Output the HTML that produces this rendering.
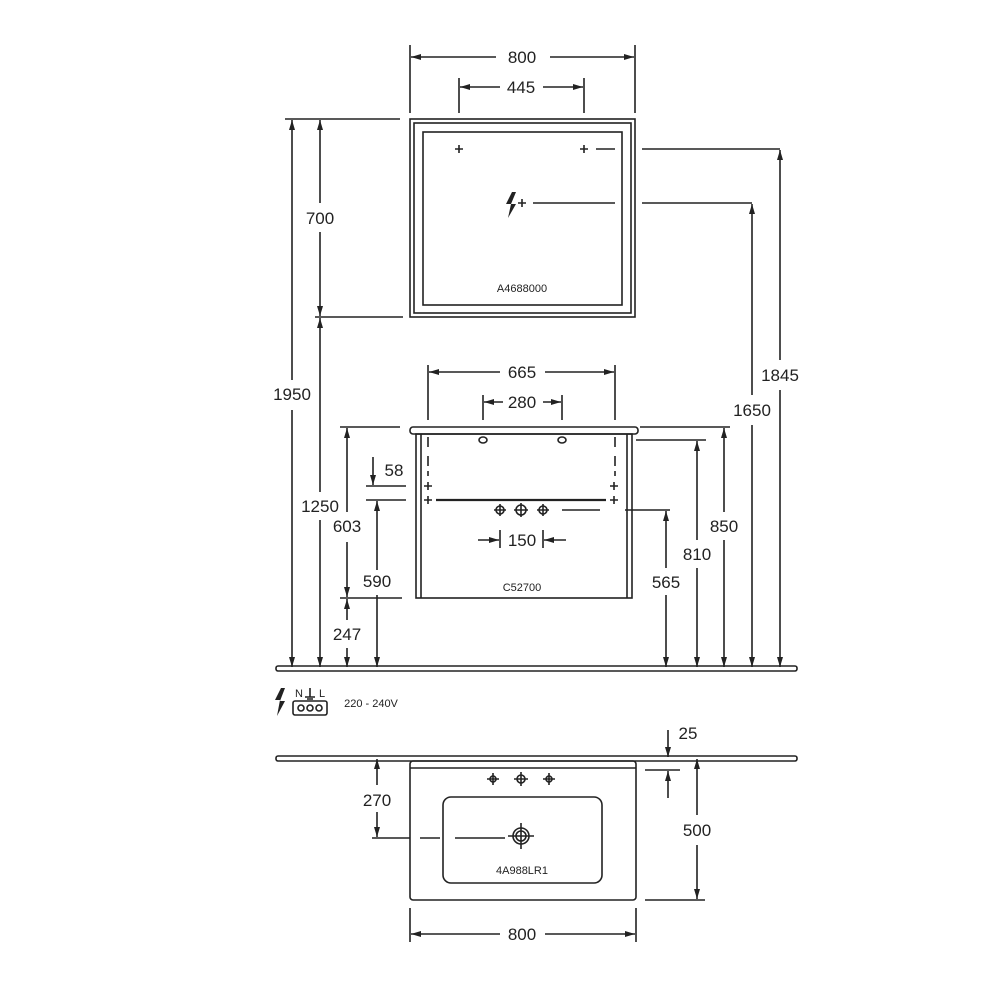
<!DOCTYPE html>
<html><head><meta charset="utf-8"><style>body{margin:0;background:#fff}svg{display:block}text{font-family:"Liberation Sans",sans-serif;fill:#222}</style></head><body>
<svg width="1000" height="1000" viewBox="0 0 1000 1000" xmlns="http://www.w3.org/2000/svg">
<defs>
<marker id="a" viewBox="0 0 10 6" refX="10" refY="3" markerWidth="11" markerHeight="6" orient="auto-start-reverse" markerUnits="userSpaceOnUse"><path d="M0,0L10,3L0,6z" fill="#222"/></marker>
</defs>
<g stroke="#222" stroke-width="1.6" fill="none">
<rect x="410" y="119" width="225" height="198"/>
<rect x="414" y="123" width="217" height="190"/>
<rect x="423" y="132" width="199" height="173"/>
<line x1="410" y1="45" x2="410" y2="113"/><line x1="635" y1="45" x2="635" y2="113"/>
<line x1="411" y1="57" x2="496" y2="57" marker-start="url(#a)"/><line x1="550" y1="57" x2="634" y2="57" marker-end="url(#a)"/>
<line x1="459" y1="78" x2="459" y2="113"/><line x1="584" y1="78" x2="584" y2="113"/>
<line x1="460" y1="87" x2="500" y2="87" marker-start="url(#a)"/><line x1="543" y1="87" x2="583" y2="87" marker-end="url(#a)"/>
<path d="M455,149h8M459,145v8M580,149h8M584,145v8M518,203h8M522,199v8"/>
<path d="M596,149h19M642,149h138M533,203h82M642,203h110"/>
<path d="M285,119h115M315,317h88"/>
<line x1="292" y1="120" x2="292" y2="380" marker-start="url(#a)"/><line x1="292" y1="410" x2="292" y2="667" marker-end="url(#a)"/>
<line x1="320" y1="120" x2="320" y2="203" marker-start="url(#a)"/><line x1="320" y1="232" x2="320" y2="316" marker-end="url(#a)"/>
<line x1="320" y1="318" x2="320" y2="492" marker-start="url(#a)"/><line x1="320" y1="520" x2="320" y2="667" marker-end="url(#a)"/>
<line x1="780" y1="150" x2="780" y2="360" marker-start="url(#a)"/><line x1="780" y1="390" x2="780" y2="667" marker-end="url(#a)"/>
<line x1="752" y1="204" x2="752" y2="395" marker-start="url(#a)"/><line x1="752" y1="425" x2="752" y2="667" marker-end="url(#a)"/>
<rect x="410" y="427" width="228" height="7" rx="3"/>
<rect x="416" y="434" width="216" height="164"/>
<path d="M421,434v164M627,434v164"/>
<ellipse cx="483" cy="440" rx="4" ry="3"/><ellipse cx="562" cy="440" rx="4" ry="3"/>
<path d="M428,365v55M615,365v55M483,395v25M562,395v25"/>
<line x1="429" y1="372" x2="500" y2="372" marker-start="url(#a)"/><line x1="545" y1="372" x2="614" y2="372" marker-end="url(#a)"/>
<line x1="484" y1="402" x2="503" y2="402" marker-start="url(#a)"/><line x1="543" y1="402" x2="561" y2="402" marker-end="url(#a)"/>
<path d="M428,437v12M428,456v20M615,437v12M615,456v20" stroke-dasharray="10 5"/>
<path d="M424,486h8M428,482v8M610,486h8M614,482v8M424,500h8M428,496v8M610,500h8M614,496v8"/>
<path d="M436,500h170" stroke-width="2.2"/>
<circle cx="500" cy="510" r="4"/><circle cx="521" cy="510" r="5"/><circle cx="543" cy="510" r="4"/>
<path d="M494,510h12M500,504v12M514,510h14M521,503v14M537,510h12M543,504v12"/>
<path d="M562,510h38M625,510h45"/>
<path d="M500,530v18M543,530v18"/>
<line x1="478" y1="540" x2="499" y2="540" marker-end="url(#a)"/><line x1="566" y1="540" x2="544" y2="540" marker-end="url(#a)"/>
<path d="M340,427h60M340,598h62M366,486h40M366,500h40M636,440h70M640,427h90"/>
<line x1="347" y1="428" x2="347" y2="512" marker-start="url(#a)"/><line x1="347" y1="542" x2="347" y2="597" marker-end="url(#a)"/>
<line x1="347" y1="599" x2="347" y2="620" marker-start="url(#a)"/><line x1="347" y1="648" x2="347" y2="667" marker-end="url(#a)"/>
<line x1="373" y1="457" x2="373" y2="485" marker-end="url(#a)"/>
<line x1="377" y1="501" x2="377" y2="570" marker-start="url(#a)"/><line x1="377" y1="595" x2="377" y2="667" marker-end="url(#a)"/>
<line x1="666" y1="511" x2="666" y2="568" marker-start="url(#a)"/><line x1="666" y1="595" x2="666" y2="667" marker-end="url(#a)"/>
<line x1="697" y1="441" x2="697" y2="540" marker-start="url(#a)"/><line x1="697" y1="568" x2="697" y2="667" marker-end="url(#a)"/>
<line x1="724" y1="428" x2="724" y2="512" marker-start="url(#a)"/><line x1="724" y1="540" x2="724" y2="667" marker-end="url(#a)"/>
<rect x="276" y="666" width="521" height="5" rx="2"/>
<rect x="276" y="756" width="521" height="5" rx="2"/>
<rect x="293" y="701" width="34" height="14" rx="2"/>
<circle cx="301" cy="708" r="3"/><circle cx="310" cy="708" r="3"/><circle cx="319" cy="708" r="3"/>
<path d="M310,688v9M305,697h10M307,699h6"/>
<rect x="410" y="761" width="226" height="139" rx="3"/>
<path d="M410,768h226"/>
<rect x="443" y="797" width="159" height="86" rx="8"/>
<circle cx="521" cy="836" r="8"/><circle cx="521" cy="836" r="5"/><path d="M508,836h26M521,823v26"/>
<circle cx="493" cy="779" r="3"/><circle cx="521" cy="779" r="4"/><circle cx="549" cy="779" r="3"/>
<path d="M487,779h12M493,773v12M514,779h14M521,772v14M543,779h12M549,773v12"/>
<path d="M372,838h38M420,838h20M455,838h50"/>
<line x1="377" y1="759" x2="377" y2="785" marker-start="url(#a)"/><line x1="377" y1="812" x2="377" y2="837" marker-end="url(#a)"/>
<path d="M645,900h60M645,770h35"/>
<line x1="697" y1="759" x2="697" y2="815" marker-start="url(#a)"/><line x1="697" y1="845" x2="697" y2="899" marker-end="url(#a)"/>
<line x1="668" y1="730" x2="668" y2="757" marker-end="url(#a)"/><line x1="668" y1="798" x2="668" y2="771" marker-end="url(#a)"/>
<path d="M410,908v34M636,908v34"/>
<line x1="411" y1="934" x2="500" y2="934" marker-start="url(#a)"/><line x1="545" y1="934" x2="635" y2="934" marker-end="url(#a)"/>
</g>
<path d="M512,192l-6,12h5l-3,14l8,-14h-5l5,-12z" fill="#222"/>
<path d="M281,688l-6,12h5l-3,16l8,-15h-5l5,-13z" fill="#222"/>
<g font-size="17" text-anchor="middle">
<text x="522" y="63">800</text><text x="521" y="93">445</text>
<text x="320" y="224">700</text><text x="292" y="400">1950</text><text x="320" y="512">1250</text>
<text x="780" y="381">1845</text><text x="752" y="416">1650</text>
<text x="522" y="378">665</text><text x="522" y="408">280</text>
<text x="394" y="476">58</text><text x="347" y="532">603</text><text x="377" y="587">590</text>
<text x="347" y="640">247</text><text x="522" y="546">150</text>
<text x="666" y="588">565</text><text x="697" y="560">810</text><text x="724" y="532">850</text>
<text x="377" y="806">270</text><text x="697" y="836">500</text><text x="688" y="739">25</text>
<text x="522" y="940">800</text>
</g>
<g font-size="11" text-anchor="middle">
<text x="522" y="292">A4688000</text><text x="522" y="591">C52700</text><text x="522" y="874">4A988LR1</text>
<text x="299" y="697">N</text><text x="322" y="697">L</text>
<text x="371" y="707">220 - 240V</text>
</g>
</svg>
</body></html>
